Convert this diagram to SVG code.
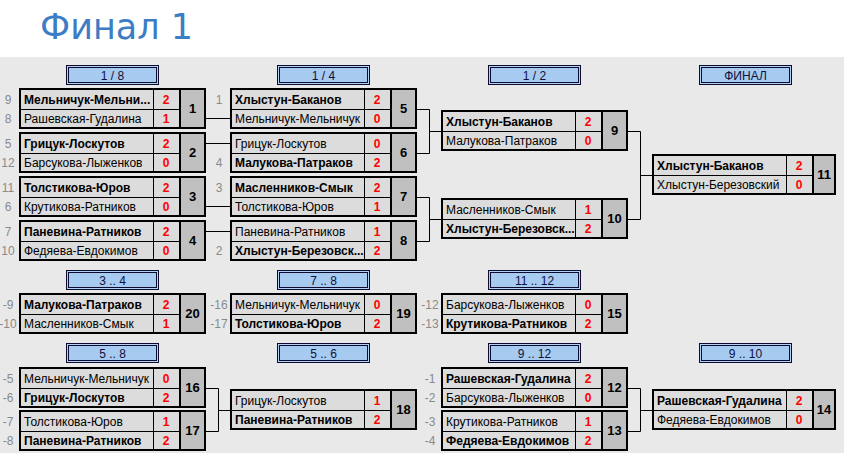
<svg xmlns="http://www.w3.org/2000/svg" width="844" height="453" viewBox="0 0 844 453">
<style>
text{font-family:"Liberation Sans",Arial,sans-serif;font-size:12px;fill:#000}
.c{fill:#dcdcdc}
.n{fill:#c0c0c0}
.f{fill:none;stroke:#000;stroke-width:2}
.d{fill:none;stroke:#000;stroke-width:1}
.d2{fill:none;stroke:#000;stroke-width:2}
.b{font-weight:bold}
.s{fill:#f00;font-weight:bold;text-anchor:middle}
.k{font-weight:bold;font-size:13px;text-anchor:middle}
.sd{fill:#8a8a8a;text-anchor:middle}
.ho{fill:#b4d2f4;stroke:#0c0c30;stroke-width:1}
.hi{fill:#a6caf0;stroke:#0c0c30;stroke-width:1}
.ht{text-anchor:middle;fill:#10103a}
.title{font-family:"DejaVu Sans","Liberation Sans",sans-serif;font-size:35px;fill:#3c7dc5}
.con{fill:none;stroke:#000;stroke-width:1}
</style>
<defs>
<g id="box">
<rect class="c" x="2" y="2" width="158" height="37"/>
<rect class="n" x="162" y="2" width="23" height="37"/>
<path class="d" d="M2 21.5H160M134.5 2V39"/>
<path class="d2" d="M161 2V39"/>
<rect class="f" x="1" y="1" width="185" height="39"/>
</g>
<g id="box4">
<rect class="c" x="2" y="2" width="158" height="37"/>
<rect class="n" x="162" y="2" width="20" height="37"/>
<path class="d" d="M2 21.5H160M134.5 2V39"/>
<path class="d2" d="M161 2V39"/>
<rect class="f" x="1" y="1" width="182" height="39"/>
</g>
<g id="hdr">
<rect class="ho" x="0.5" y="0.5" width="92" height="19"/>
<rect class="hi" x="2.5" y="2.5" width="88" height="15"/>
</g>
</defs>
<rect x="0" y="0" width="844" height="453" fill="#fff"/>
<rect x="0" y="57" width="844" height="396" fill="#e9e9e9"/>
<text class="title" x="40" y="39">Финал 1</text>

<g id="headers">
<g transform="translate(66,65)"><use href="#hdr"/><text class="ht" x="46.5" y="14.5">1 / 8</text></g>
<g transform="translate(277,65)"><use href="#hdr"/><text class="ht" x="46.5" y="14.5">1 / 4</text></g>
<g transform="translate(488,65)"><use href="#hdr"/><text class="ht" x="46.5" y="14.5">1 / 2</text></g>
<g transform="translate(699,65)"><use href="#hdr"/><text class="ht" x="46.5" y="14.5">ФИНАЛ</text></g>
<g transform="translate(66,270)"><use href="#hdr"/><text class="ht" x="46.5" y="14.5">3 .. 4</text></g>
<g transform="translate(277,270)"><use href="#hdr"/><text class="ht" x="46.5" y="14.5">7 .. 8</text></g>
<g transform="translate(488,270)"><use href="#hdr"/><text class="ht" x="46.5" y="14.5">11 .. 12</text></g>
<g transform="translate(66,343)"><use href="#hdr"/><text class="ht" x="46.5" y="14.5">5 .. 8</text></g>
<g transform="translate(277,343)"><use href="#hdr"/><text class="ht" x="46.5" y="14.5">5 .. 6</text></g>
<g transform="translate(488,343)"><use href="#hdr"/><text class="ht" x="46.5" y="14.5">9 .. 12</text></g>
<g transform="translate(699,343)"><use href="#hdr"/><text class="ht" x="46.5" y="14.5">9 .. 10</text></g>
</g>

<g id="connectors">
<path class="con" d="M206 118.5H230M206 143.5H230M206 206.5H230M206 231.5H230"/>
<path class="con" d="M417 109.5H429.5V153.5H417M429.5 131.5H441"/>
<path class="con" d="M417 197.5H429.5V241.5H417M429.5 219.5H441"/>
<path class="con" d="M628 131.5H640.5V219.5H628M640.5 175.5H652"/>
<path class="con" d="M206 388.5H218.5V431.5H206M218.5 410.5H230"/>
<path class="con" d="M628 388.5H640.5V431.5H628M640.5 410.5H652"/>
</g>

<g id="m1" transform="translate(19,88)"><use href="#box"/>
<text class="sd" x="-11" y="15.5">9</text><text class="sd" x="-11" y="34.5">8</text>
<text class="b" x="5" y="15.5">Мельничук-Мельни...</text><text x="5" y="34.5">Рашевская-Гудалина</text>
<text class="s" x="147" y="15.5">2</text><text class="s" x="147" y="34.5">1</text>
<text class="k" x="173.5" y="25">1</text></g>

<g id="m2" transform="translate(19,132)"><use href="#box"/>
<text class="sd" x="-11" y="15.5">5</text><text class="sd" x="-11" y="34.5">12</text>
<text class="b" x="5" y="15.5">Грицук-Лоскутов</text><text x="5" y="34.5">Барсукова-Лыженков</text>
<text class="s" x="147" y="15.5">2</text><text class="s" x="147" y="34.5">0</text>
<text class="k" x="173.5" y="25">2</text></g>

<g id="m3" transform="translate(19,176)"><use href="#box"/>
<text class="sd" x="-11" y="15.5">11</text><text class="sd" x="-11" y="34.5">6</text>
<text class="b" x="5" y="15.5">Толстикова-Юров</text><text x="5" y="34.5">Крутикова-Ратников</text>
<text class="s" x="147" y="15.5">2</text><text class="s" x="147" y="34.5">0</text>
<text class="k" x="173.5" y="25">3</text></g>

<g id="m4" transform="translate(19,220)"><use href="#box"/>
<text class="sd" x="-11" y="15.5">7</text><text class="sd" x="-11" y="34.5">10</text>
<text class="b" x="5" y="15.5">Паневина-Ратников</text><text x="5" y="34.5">Федяева-Евдокимов</text>
<text class="s" x="147" y="15.5">2</text><text class="s" x="147" y="34.5">0</text>
<text class="k" x="173.5" y="25">4</text></g>

<g id="m5" transform="translate(230,88)"><use href="#box"/>
<text class="sd" x="-11" y="15.5">1</text>
<text class="b" x="5" y="15.5">Хлыстун-Баканов</text><text x="5" y="34.5">Мельничук-Мельничук</text>
<text class="s" x="147" y="15.5">2</text><text class="s" x="147" y="34.5">0</text>
<text class="k" x="173.5" y="25">5</text></g>

<g id="m6" transform="translate(230,132)"><use href="#box"/>
<text class="sd" x="-11" y="34.5">4</text>
<text x="5" y="15.5">Грицук-Лоскутов</text><text class="b" x="5" y="34.5">Малукова-Патраков</text>
<text class="s" x="147" y="15.5">0</text><text class="s" x="147" y="34.5">2</text>
<text class="k" x="173.5" y="25">6</text></g>

<g id="m7" transform="translate(230,176)"><use href="#box"/>
<text class="sd" x="-11" y="15.5">3</text>
<text class="b" x="5" y="15.5">Масленников-Смык</text><text x="5" y="34.5">Толстикова-Юров</text>
<text class="s" x="147" y="15.5">2</text><text class="s" x="147" y="34.5">1</text>
<text class="k" x="173.5" y="25">7</text></g>

<g id="m8" transform="translate(230,220)"><use href="#box"/>
<text class="sd" x="-11" y="34.5">2</text>
<text x="5" y="15.5">Паневина-Ратников</text><text class="b" x="5" y="34.5">Хлыстун-Березовск...</text>
<text class="s" x="147" y="15.5">1</text><text class="s" x="147" y="34.5">2</text>
<text class="k" x="173.5" y="25">8</text></g>

<g id="m9" transform="translate(441,110)"><use href="#box"/>
<text class="b" x="5" y="15.5">Хлыстун-Баканов</text><text x="5" y="34.5">Малукова-Патраков</text>
<text class="s" x="147" y="15.5">2</text><text class="s" x="147" y="34.5">0</text>
<text class="k" x="173.5" y="25">9</text></g>

<g id="m10" transform="translate(441,198)"><use href="#box"/>
<text x="5" y="15.5">Масленников-Смык</text><text class="b" x="5" y="34.5">Хлыстун-Березовск...</text>
<text class="s" x="147" y="15.5">1</text><text class="s" x="147" y="34.5">2</text>
<text class="k" x="173.5" y="25">10</text></g>

<g id="m11" transform="translate(652,154)"><use href="#box4"/>
<text class="b" x="5" y="15.5">Хлыстун-Баканов</text><text x="5" y="34.5">Хлыстун-Березовский</text>
<text class="s" x="147" y="15.5">2</text><text class="s" x="147" y="34.5">0</text>
<text class="k" x="172" y="25">11</text></g>

<g id="m20" transform="translate(19,293)"><use href="#box"/>
<text class="sd" x="-11" y="15.5">-9</text><text class="sd" x="-11" y="34.5">-10</text>
<text class="b" x="5" y="15.5">Малукова-Патраков</text><text x="5" y="34.5">Масленников-Смык</text>
<text class="s" x="147" y="15.5">2</text><text class="s" x="147" y="34.5">1</text>
<text class="k" x="173.5" y="25">20</text></g>

<g id="m19" transform="translate(230,293)"><use href="#box"/>
<text class="sd" x="-11" y="15.5">-16</text><text class="sd" x="-11" y="34.5">-17</text>
<text x="5" y="15.5">Мельничук-Мельничук</text><text class="b" x="5" y="34.5">Толстикова-Юров</text>
<text class="s" x="147" y="15.5">0</text><text class="s" x="147" y="34.5">2</text>
<text class="k" x="173.5" y="25">19</text></g>

<g id="m15" transform="translate(441,293)"><use href="#box"/>
<text class="sd" x="-11" y="15.5">-12</text><text class="sd" x="-11" y="34.5">-13</text>
<text x="5" y="15.5">Барсукова-Лыженков</text><text class="b" x="5" y="34.5">Крутикова-Ратников</text>
<text class="s" x="147" y="15.5">0</text><text class="s" x="147" y="34.5">2</text>
<text class="k" x="173.5" y="25">15</text></g>

<g id="m16" transform="translate(19,367)"><use href="#box"/>
<text class="sd" x="-11" y="15.5">-5</text><text class="sd" x="-11" y="34.5">-6</text>
<text x="5" y="15.5">Мельничук-Мельничук</text><text class="b" x="5" y="34.5">Грицук-Лоскутов</text>
<text class="s" x="147" y="15.5">0</text><text class="s" x="147" y="34.5">2</text>
<text class="k" x="173.5" y="25">16</text></g>

<g id="m17" transform="translate(19,410)"><use href="#box"/>
<text class="sd" x="-11" y="15.5">-7</text><text class="sd" x="-11" y="34.5">-8</text>
<text x="5" y="15.5">Толстикова-Юров</text><text class="b" x="5" y="34.5">Паневина-Ратников</text>
<text class="s" x="147" y="15.5">1</text><text class="s" x="147" y="34.5">2</text>
<text class="k" x="173.5" y="25">17</text></g>

<g id="m18" transform="translate(230,389)"><use href="#box"/>
<text x="5" y="15.5">Грицук-Лоскутов</text><text class="b" x="5" y="34.5">Паневина-Ратников</text>
<text class="s" x="147" y="15.5">1</text><text class="s" x="147" y="34.5">2</text>
<text class="k" x="173.5" y="25">18</text></g>

<g id="m12" transform="translate(441,367)"><use href="#box"/>
<text class="sd" x="-11" y="15.5">-1</text><text class="sd" x="-11" y="34.5">-2</text>
<text class="b" x="5" y="15.5">Рашевская-Гудалина</text><text x="5" y="34.5">Барсукова-Лыженков</text>
<text class="s" x="147" y="15.5">2</text><text class="s" x="147" y="34.5">0</text>
<text class="k" x="173.5" y="25">12</text></g>

<g id="m13" transform="translate(441,410)"><use href="#box"/>
<text class="sd" x="-11" y="15.5">-3</text><text class="sd" x="-11" y="34.5">-4</text>
<text x="5" y="15.5">Крутикова-Ратников</text><text class="b" x="5" y="34.5">Федяева-Евдокимов</text>
<text class="s" x="147" y="15.5">1</text><text class="s" x="147" y="34.5">2</text>
<text class="k" x="173.5" y="25">13</text></g>

<g id="m14" transform="translate(652,389)"><use href="#box4"/>
<text class="b" x="5" y="15.5">Рашевская-Гудалина</text><text x="5" y="34.5">Федяева-Евдокимов</text>
<text class="s" x="147" y="15.5">2</text><text class="s" x="147" y="34.5">0</text>
<text class="k" x="172" y="25">14</text></g>
</svg>
